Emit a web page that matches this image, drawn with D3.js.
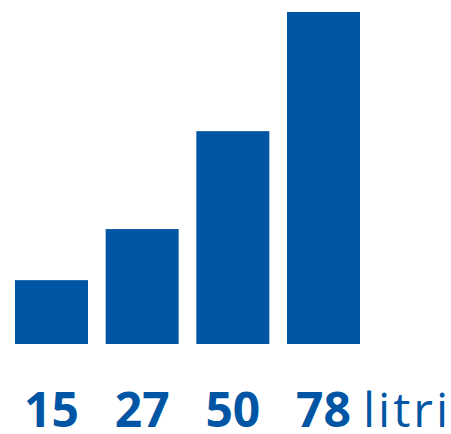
<!DOCTYPE html>
<html>
<head>
<meta charset="utf-8">
<script src="https://cdn.jsdelivr.net/npm/d3@7"></script>
<style>
  html, body { margin: 0; padding: 0; background: #fff; }
  svg { display: block; }
</style>
</head>
<body>
<svg id="chart" width="451" height="434"></svg>
<script>
const categories = ["15", "27", "50", "78"];
const values = [15, 27, 50, 78];
const unitLabel = "litri";

const W = 451, H = 434;
const blue = "#0056a4";
const svg = d3.select("#chart");

const x = d3.scaleBand()
  .domain(categories)
  .range([15, 360])
  .paddingInner(0.195)
  .paddingOuter(0);

const y = d3.scaleLinear()
  .domain([0, 78])
  .range([344, 12]);

svg.selectAll("rect.bar")
  .data(values)
  .join("rect")
  .attr("class", "bar")
  .attr("x", (d, i) => x(categories[i]))
  .attr("y", d => y(d))
  .attr("width", x.bandwidth())
  .attr("height", d => y(0) - y(d))
  .attr("fill", blue);

// category labels via a bottom axis (no lines)
const axis = svg.append("g")
  .attr("transform", "translate(0,427)")
  .call(d3.axisBottom(x).tickSize(0).tickPadding(0));
axis.select(".domain").remove();
axis.selectAll("text")
  .attr("y", 0)
  .attr("dy", 0)
  .attr("fill", blue)
  .attr("font-family", "'Open Sans', sans-serif")
  .attr("font-weight", "bold")
  .attr("font-size", 48);

svg.append("text")
  .attr("x", x(categories[3]) + x.bandwidth() + 3)
  .attr("y", 427)
  .attr("fill", blue)
  .attr("font-family", "'Open Sans', sans-serif")
  .attr("font-size", 48)
  .attr("letter-spacing", 3)
  .text(unitLabel);
</script>
</body>
</html>
